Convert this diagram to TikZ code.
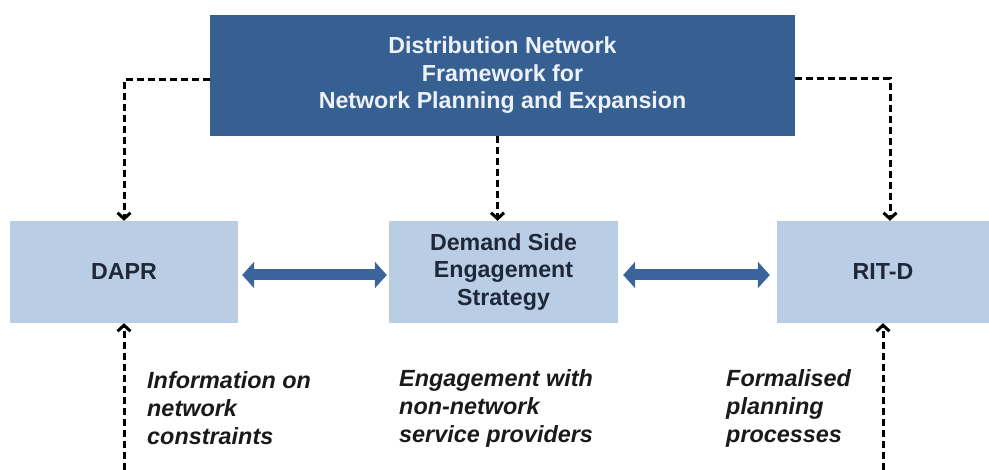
\documentclass[tikz,border=0pt]{standalone}
\usepackage{fontspec}
\setmainfont{Liberation Sans}
\usetikzlibrary{arrows.meta}
\definecolor{darkblue}{HTML}{365F92}
\definecolor{lightblue}{HTML}{B9CDE5}
\definecolor{arrowblue}{HTML}{3A649B}
\definecolor{toptext}{HTML}{EEF2F8}
\definecolor{boxtext}{HTML}{1E2838}
\definecolor{labeltext}{HTML}{1A1A1A}
\begin{document}
\begin{tikzpicture}[x=1pt,y=-1pt,
  topbox/.style={fill=darkblue, draw=none, minimum width=585pt, minimum height=121pt,
    align=center, text=toptext, font=\fontsize{23.2}{27.5}\selectfont\bfseries, inner sep=0pt},
  lightbox/.style={fill=lightblue, draw=none, minimum height=102pt,
    align=center, text=boxtext, font=\fontsize{23.2}{27.5}\selectfont\bfseries, inner sep=0pt},
  note/.style={anchor=west, align=left, text=labeltext, inner sep=0pt,
    font=\fontsize{23.4}{28}\selectfont\bfseries\itshape},
  dasharrow/.style={line width=3pt, dash pattern=on 7pt off 4pt,
    -{Straight Barb[length=6pt,width=13pt,line width=3pt]}},
  dblarrow/.style={line width=11pt, draw=arrowblue,
    {Triangle[length=12pt,width=26pt]}-{Triangle[length=12pt,width=26pt]}}
]
\useasboundingbox (0,0) rectangle (989,470);

\node[topbox] (top) at (502.5,75.5) {Distribution Network\\Framework for\\Network Planning and Expansion};
\node[lightbox, minimum width=228pt] (dapr) at (124,272) {DAPR};
\node[lightbox, minimum width=229pt] (dse) at (503.5,272) {Demand Side\\Engagement\\Strategy};
\node[lightbox, minimum width=212pt] (rit) at (883,272) {RIT-D};

\node[note] (info) at (147,408) {Information on\\network\\constraints};
\node[note] (eng) at (399,408) {Engagement with\\non-network\\service providers};
\node[note] (form) at (726,408) {Formalised\\planning\\processes};

\coordinate (bl) at (124,470);
\coordinate (br) at (883,470);

\draw[dasharrow] ([yshift=-4pt]top.west) -| (dapr.north);
\draw[dasharrow] ([yshift=-3pt]top.east) -| ([xshift=7pt]rit.north);
\draw[dasharrow] ([xshift=-5pt]top.south) -- ([xshift=-6pt]dse.north);
\draw[dasharrow] (bl) -- (dapr.south);
\draw[dasharrow] (br) -- (rit.south);

\draw[dblarrow, shorten <=4pt, shorten >=2pt] ([yshift=-3pt]dapr.east) -- ([yshift=-3pt]dse.west);
\draw[dblarrow, shorten <=5pt, shorten >=7pt] ([yshift=-3pt]dse.east) -- ([yshift=-3pt]rit.west);
\end{tikzpicture}
\end{document}
